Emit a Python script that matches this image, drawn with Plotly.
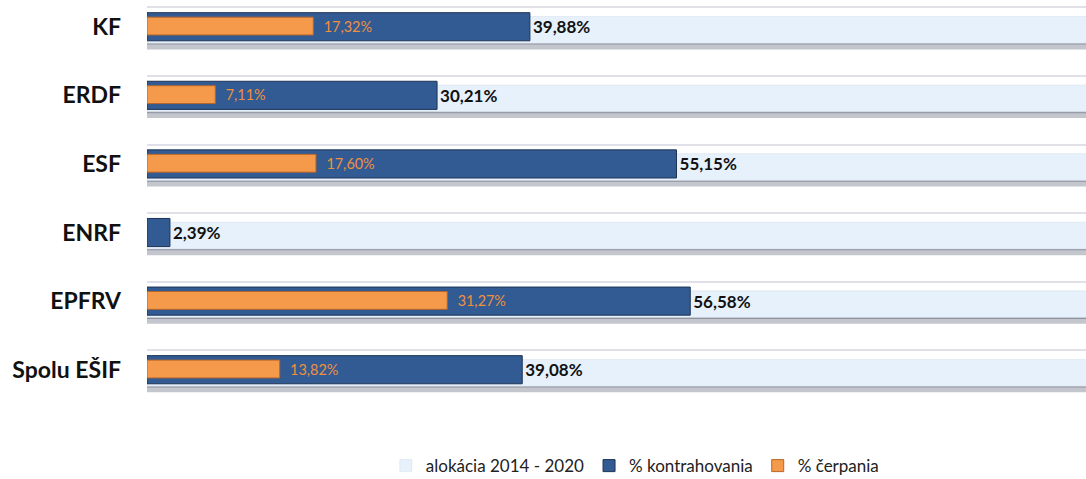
import plotly.graph_objects as go

categories = ["KF", "ERDF", "ESF", "ENRF", "EPFRV", "Spolu EŠIF"]
alokacia = [100, 100, 100, 100, 100, 100]
kontrahovanie = [39.88, 30.21, 55.15, 2.39, 56.58, 39.08]
cerpanie = [17.32, 7.11, 17.60, None, 31.27, 13.82]

def fmt(v, lead=""):
    return "" if v is None else lead + f"{v:.2f}%".replace(".", ",")

FONT = "Lato"
fig = go.Figure()

# thin top line (decoration)
fig.add_trace(go.Bar(y=categories, x=alokacia, orientation="h", offset=-0.29, width=0.018,
                     marker=dict(color="#E0E1E8", line=dict(width=0)), showlegend=False, hoverinfo="skip"))
# shadow under allocation bar
fig.add_trace(go.Bar(y=categories, x=alokacia, orientation="h", offset=0.20, width=0.13,
                     marker=dict(color="#C4C6CE", line=dict(width=0)), showlegend=False, hoverinfo="skip"))
fig.add_trace(go.Bar(y=categories, x=alokacia, orientation="h", offset=0.22, width=0.04,
                     marker=dict(color="#8F919C", line=dict(width=0)), showlegend=False, hoverinfo="skip"))
# allocation bar
fig.add_trace(go.Bar(y=categories, x=alokacia, orientation="h", offset=-0.15, width=0.39,
                     name="alokácia 2014 - 2020",
                     marker=dict(color="#E7F1FC", line=dict(color="#D3DCE8", width=0.5))))
# contracting
fig.add_trace(go.Bar(y=categories, x=kontrahovanie, orientation="h", offset=-0.205, width=0.41,
                     name="% kontrahovania",
                     marker=dict(color="#315B92", line=dict(color="#1D3354", width=1)),
                     text=[fmt(v) for v in kontrahovanie], textposition="outside",
                     textfont=dict(family=FONT, size=17, color="#111111", weight="bold"),
                     cliponaxis=False))
# drawing
fig.add_trace(go.Bar(y=categories, x=cerpanie, orientation="h", offset=-0.14, width=0.26,
                     name="% čerpania",
                     marker=dict(color="#F59A4A", line=dict(color="#B8652A", width=1)),
                     text=[fmt(v, "  ") for v in cerpanie], textposition="outside",
                     textfont=dict(family=FONT, size=17, color="#F0903F"),
                     cliponaxis=False))

fig.update_layout(
    width=1086, height=479,
    margin=dict(l=147, r=0, t=0, b=75, autoexpand=False),
    barmode="overlay",
    plot_bgcolor="white", paper_bgcolor="white",
    font=dict(family=FONT, color="#111111"),
    xaxis=dict(range=[0, 97.8], visible=False, showgrid=False, zeroline=False, automargin=False),
    yaxis=dict(categoryorder="array", categoryarray=categories, range=[5.5, -0.39],
               showgrid=False, zeroline=False, showline=False, ticks="",
               automargin=False, ticklabelstandoff=25,
               tickfont=dict(family=FONT, size=23, color="#111111", weight="bold")),
    legend=dict(orientation="h", xref="container", yref="container",
                x=0.585, xanchor="center", y=0.027, yanchor="middle",
                font=dict(family=FONT, size=17, color="#222222"), traceorder="normal",
                itemwidth=30),
    showlegend=True,
)

fig.write_html("out.html", config={"displayModeBar": False},
               post_script="document.body.style.margin='0';document.body.style.overflow='hidden';")
